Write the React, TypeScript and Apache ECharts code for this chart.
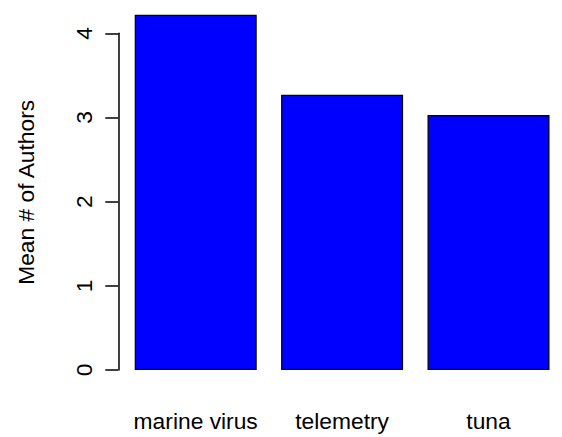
import React, { useEffect, useRef } from "react";
import * as echarts from "echarts";

const categories = ["marine virus", "telemetry", "tuna"];
const meanAuthors = [4.22, 3.27, 3.03];
const yTicks = [0, 1, 2, 3, 4];
const yTitle = "Mean # of Authors";

export default function App() {
  const ref = useRef<HTMLDivElement>(null);
  useEffect(() => {
    if (!ref.current) return;
    const chart = echarts.init(ref.current, null, { renderer: "svg" });
    const font = "Liberation Sans, Arial, Helvetica, sans-serif";
    const fs = 22.8;
    chart.setOption({
      animation: false,
      backgroundColor: "#ffffff",
      grid: { left: 122.5, right: 0.3, top: 33.3, bottom: 67, containLabel: false },
      xAxis: {
        type: "category",
        data: categories,
        axisLine: { show: false },
        axisTick: { show: false },
        axisLabel: {
          color: "#000",
          fontFamily: font,
          fontSize: fs,
          margin: 39.5,
          interval: 0,
          hideOverlap: false,
        },
      },
      yAxis: {
        type: "value",
        min: yTicks[0],
        max: yTicks[yTicks.length - 1],
        interval: 1,
        offset: 4.2,
        splitLine: { show: false },
        axisLine: { show: true, lineStyle: { color: "#000", width: 1.5 } },
        axisTick: { show: true, inside: false, length: 13, lineStyle: { color: "#000", width: 1.5 } },
        axisLabel: { color: "#000", fontFamily: font, fontSize: fs, rotate: 90, margin: 22.8 },
      },
      graphic: [
        {
          type: "text",
          x: 26,
          y: 192.3,
          rotation: Math.PI / 2,
          style: {
            text: yTitle,
            fill: "#000",
            font: `${fs}px ${font}`,
            textAlign: "center",
            textVerticalAlign: "middle",
          },
        },
      ],
      series: [
        {
          type: "bar",
          data: meanAuthors,
          barWidth: 122,
          clip: false,
          itemStyle: { color: "#0000ff", borderColor: "#000", borderWidth: 1.2 },
        },
      ],
    });
    return () => chart.dispose();
  }, []);
  return (
    <div
      ref={ref}
      style={{ position: "fixed", left: 0, top: 0, width: 562, height: 437 }}
    />
  );
}
